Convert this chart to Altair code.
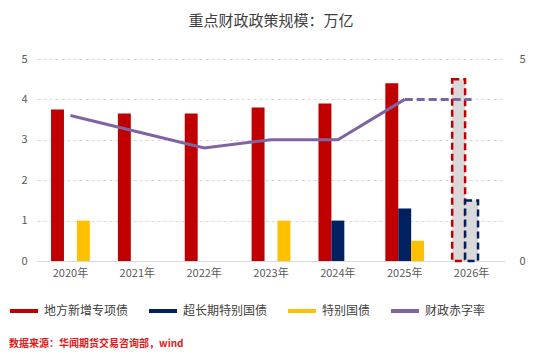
import altair as alt
import pandas as pd

years = ["2020年", "2021年", "2022年", "2023年", "2024年", "2025年", "2026年"]
series_names = ["地方新增专项债", "超长期特别国债", "特别国债"]
line_name = "财政赤字率"
local_special = [3.75, 3.65, 3.65, 3.8, 3.9, 4.4, 4.5]
ultra_long = [None, None, None, None, 1.0, 1.3, 1.5]
special_treasury = [1.0, None, None, 1.0, None, 0.5, None]
deficit = [3.6, 3.2, 2.8, 3.0, 3.0, 4.0, 4.0]

colors = ["#c00000", "#002060", "#ffc000", "#8064a2"]
FONT = "Noto Sans CJK SC"

rows = []
for i, y in enumerate(years):
    for s, vals in zip(series_names, [local_special, ultra_long, special_treasury]):
        if vals[i] is not None:
            rows.append({"year": y, "series": s, "value": vals[i], "est": y == "2026年"})
bars_df = pd.DataFrame(rows)
line_df = pd.DataFrame({"year": years, "value": deficit, "series": line_name})

W, H = 468, 202

xenc = alt.X("year:N", sort=years, title=None,
             scale=alt.Scale(domain=years, paddingInner=0.42, paddingOuter=0.21),
             axis=alt.Axis(labelAngle=0, ticks=False, domainColor="#d9d9d9",
                           labelColor="#595959", labelFontSize=11, labelFont=FONT,
                           labelPadding=6))
yscale = alt.Scale(domain=[0, 5], nice=False)
xoff = alt.XOffset("series:N", scale=alt.Scale(domain=series_names, paddingInner=0, paddingOuter=0))

fill_scale = alt.Scale(domain=series_names, range=colors[:3])
stroke_scale = alt.Scale(domain=series_names + [line_name], range=colors)
legend = alt.Legend(orient="none", legendX=-29, legendY=236, direction="horizontal",
                    columns=4, gridAlign="none",
                    title=None, symbolType="stroke", symbolStrokeWidth=4, symbolSize=784,
                    symbolDash=[1, 0],
                    labelFont=FONT, labelFontSize=12, labelColor="#404040",
                    columnPadding=12, labelOffset=4)

base_bar = alt.Chart(bars_df)
bars = base_bar.transform_filter("!datum.est").mark_bar().encode(
    x=xenc,
    xOffset=xoff,
    y=alt.Y("value:Q", scale=yscale, title=None,
            axis=alt.Axis(values=[0, 1, 2, 3, 4, 5], ticks=False, domain=False,
                          gridDash=[3, 3], gridColor="#d9d9d9", labelColor="#595959",
                          labelFontSize=11, labelFont=FONT, labelPadding=10)),
    fill=alt.Fill("series:N", scale=fill_scale, legend=None),
)

est_red = base_bar.transform_filter("datum.est && datum.series == '地方新增专项债'").mark_bar(
    fill="#d9d9d9", stroke="#c00000", strokeDash=[7, 4], strokeWidth=2.5
).encode(x=xenc, xOffset=xoff, y=alt.Y("value:Q", scale=yscale))
est_navy = base_bar.transform_filter("datum.est && datum.series == '超长期特别国债'").mark_bar(
    fill="#d9d9d9", stroke="#002060", strokeDash=[7, 4], strokeWidth=2.5
).encode(x=xenc, xOffset=xoff, y=alt.Y("value:Q", scale=yscale))

base_line = alt.Chart(line_df)
line_solid = base_line.transform_filter("datum.year != '2026年'").mark_line(strokeWidth=3).encode(
    x=xenc,
    y=alt.Y("value:Q", scale=yscale, title=None,
            axis=alt.Axis(orient="right", values=[0, 5], ticks=False, domain=False, grid=False,
                          labelColor="#595959", labelFontSize=11, labelFont=FONT,
                          labelPadding=14)),
    stroke=alt.Stroke("series:N", scale=stroke_scale, legend=legend),
)
line_dash = base_line.transform_filter("datum.year == '2025年' || datum.year == '2026年'").mark_line(
    strokeWidth=3, strokeDash=[8, 4]
).encode(
    x=xenc,
    y=alt.Y("value:Q", scale=yscale),
    stroke=alt.Stroke("series:N", scale=stroke_scale, legend=legend),
)

source = alt.Chart(pd.DataFrame({"t": ["数据来源：华闻期货交易咨询部，wind"]})).mark_text(
    align="left", baseline="middle", color="#e0191b", fontSize=10, fontWeight="bold", font=FONT
).encode(text="t:N", x=alt.value(-28), y=alt.value(285))

left = alt.layer(bars, est_red, est_navy)
right = alt.layer(line_solid, line_dash)

chart = alt.layer(left, right, source).resolve_scale(y="shared").resolve_axis(y="independent").properties(
    width=W, height=H,
    title=alt.Title("重点财政政策规模：万亿", font=FONT, fontSize=15, fontWeight="normal",
                    color="#404040", anchor="middle", offset=24),
    autosize=alt.AutoSizeParams(type="none"),
    padding={"left": 29, "top": 51, "right": 25, "bottom": 88},
).configure_view(stroke=None)

chart.save("out.html", embed_options={"renderer": "svg", "actions": False})
